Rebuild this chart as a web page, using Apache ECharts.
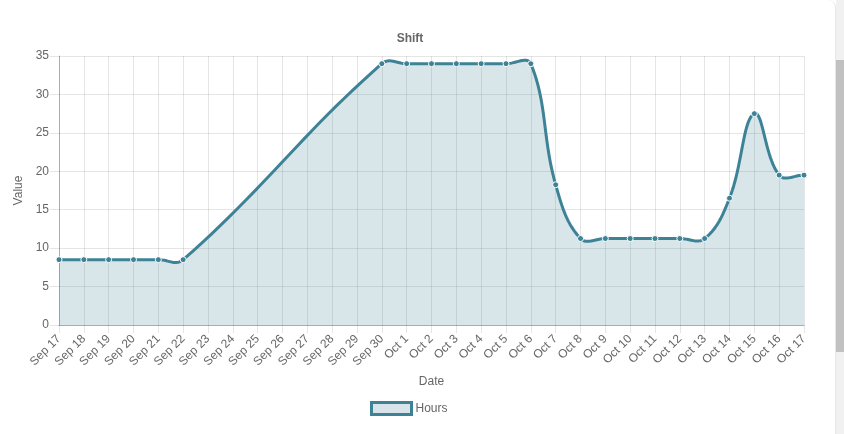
<!DOCTYPE html>
<html>
<head>
<meta charset="utf-8">
<script src="https://cdn.jsdelivr.net/npm/echarts@6/dist/echarts.min.js"></script>
<style>
  html, body { margin: 0; padding: 0; background: #ffffff; overflow: hidden; }
  #card { position: absolute; left: 0; top: 0; width: 835px; height: 434px; background: #fff;
          border-right: 1px solid #e6e6e6; border-top-right-radius: 8px; }
  #chart { position: absolute; left: 0; top: 0; width: 835px; height: 434px; }
  #track { position: absolute; left: 836px; top: 0; width: 8px; height: 434px; background: #f1f1f1; }
  #thumb { position: absolute; left: 836px; top: 60px; width: 8px; height: 292px; background: #c1c1c1; }
</style>
</head>
<body>
<div id="card"></div>
<div id="chart"></div>
<div id="track"></div>
<div id="thumb"></div>
<script>
const categories = ['Sep 17','Sep 18','Sep 19','Sep 20','Sep 21','Sep 22','Sep 23','Sep 24','Sep 25','Sep 26',
  'Sep 27','Sep 28','Sep 29','Sep 30','Oct 1','Oct 2','Oct 3','Oct 4','Oct 5','Oct 6','Oct 7','Oct 8',
  'Oct 9','Oct 10','Oct 11','Oct 12','Oct 13','Oct 14','Oct 15','Oct 16','Oct 17'];
const hours = [8.5, 8.5, 8.5, 8.5, 8.5, 8.5, null, null, null, null, null, null, null, 34,
  34, 34, 34, 34, 34, 34, 18.25, 11.25, 11.25, 11.25, 11.25, 11.25, 11.25, 16.5, 27.5, 19.5, 19.5];
const seriesName = 'Hours';
const titleText = 'Shift';
const xName = 'Date';
const yName = 'Value';

// points only where a value exists; x = category index (the line spans the missing days)
const points = [];
hours.forEach((v, i) => { if (v !== null) points.push([i, v]); });

const lineColor = '#3e8296';
const fillColor = 'rgba(62,130,150,0.2)';
const txt = '#666666';
const font = 'Liberation Sans, Arial, sans-serif';
const tension = 0.4;

// Cardinal-spline curve (tension 0.4) through the points, in pixel space from the axis scales
function renderCurve(params, api) {
  if (params.dataIndex !== 0) return;
  const px = points.map(p => api.coord(p));
  const base = api.coord([0, 0])[1];
  const top = api.coord([0, 35])[1];
  const n = px.length;
  const cps = [];
  for (let i = 0; i < n; i++) {
    const prev = px[Math.max(0, i - 1)], cur = px[i], next = px[Math.min(n - 1, i + 1)];
    const d01 = Math.hypot(cur[0] - prev[0], cur[1] - prev[1]);
    const d12 = Math.hypot(next[0] - cur[0], next[1] - cur[1]);
    let s01 = d01 / (d01 + d12), s12 = d12 / (d01 + d12);
    if (!isFinite(s01)) s01 = 0;
    if (!isFinite(s12)) s12 = 0;
    const fa = tension * s01, fb = tension * s12;
    const clampY = y => Math.min(base, Math.max(top, y));
    cps.push({
      p: [cur[0] - fa * (next[0] - prev[0]), clampY(cur[1] - fa * (next[1] - prev[1]))],
      n: [cur[0] + fb * (next[0] - prev[0]), clampY(cur[1] + fb * (next[1] - prev[1]))]
    });
  }
  const line = [px[0]];
  const steps = 24;
  for (let i = 0; i < n - 1; i++) {
    const a = px[i], b = px[i + 1], c1 = cps[i].n, c2 = cps[i + 1].p;
    for (let s = 1; s <= steps; s++) {
      const t = s / steps, u = 1 - t;
      line.push([
        u*u*u*a[0] + 3*u*u*t*c1[0] + 3*u*t*t*c2[0] + t*t*t*b[0],
        u*u*u*a[1] + 3*u*u*t*c1[1] + 3*u*t*t*c2[1] + t*t*t*b[1]
      ]);
    }
  }
  const area = line.concat([[px[n - 1][0], base], [px[0][0], base]]);
  return {
    type: 'group',
    children: [
      { type: 'polygon', shape: { points: area }, style: { fill: fillColor }, silent: true },
      { type: 'polyline', shape: { points: line },
        style: { stroke: lineColor, lineWidth: 3, fill: null, lineJoin: 'round' }, silent: true }
    ]
  };
}

const chart = echarts.init(document.getElementById('chart'), null, { renderer: 'canvas' });
chart.setOption({
  animation: false,
  backgroundColor: 'transparent',
  title: {
    text: titleText, left: 405, top: 28, textAlign: 'center',
    textStyle: { fontFamily: font, fontSize: 12, fontWeight: 'bold', color: txt }
  },
  legend: {
    data: [{ name: seriesName, icon: 'rect' }],
    left: 365, top: 396, itemWidth: 40, itemHeight: 12, itemGap: 5,
    textStyle: { fontFamily: font, fontSize: 12, color: txt, padding: [0, 0, 0, -1] },
    itemStyle: { color: '#d8e4ea', borderColor: lineColor, borderWidth: 3 }
  },
  grid: { left: 59, right: 31, top: 56, bottom: 109, containLabel: false },
  xAxis: {
    type: 'value', min: 0, max: categories.length - 1, interval: 1,
    name: xName, nameLocation: 'middle', nameGap: 51,
    nameTextStyle: { fontFamily: font, fontSize: 12, color: txt },
    axisLine: { show: true, lineStyle: { color: 'rgba(0,0,0,0.25)', width: 1 } },
    axisTick: { show: true, length: 8, lineStyle: { color: 'rgba(0,0,0,0.1)' } },
    axisLabel: { rotate: 45, margin: 12, fontFamily: font, fontSize: 12, color: txt,
      showMinLabel: true, showMaxLabel: true,
      formatter: v => categories[v] },
    splitLine: { show: true, lineStyle: { color: 'rgba(0,0,0,0.1)', width: 1 } }
  },
  yAxis: {
    type: 'value', min: 0, max: 35, interval: 5,
    name: yName, nameLocation: 'middle', nameGap: 28, nameRotate: 90,
    nameTextStyle: { fontFamily: font, fontSize: 12, color: txt },
    axisLine: { show: true, lineStyle: { color: 'rgba(0,0,0,0.25)', width: 1 } },
    axisTick: { show: true, length: 9, lineStyle: { color: 'rgba(0,0,0,0.1)' } },
    axisLabel: { margin: 10, fontFamily: font, fontSize: 12, color: txt },
    splitLine: { show: true, lineStyle: { color: 'rgba(0,0,0,0.1)', width: 1 } }
  },
  series: [
    {
      name: 'curve', type: 'custom', data: [[0, 0]], renderItem: renderCurve,
      silent: true, z: 2, clip: false
    },
    {
      name: seriesName, type: 'line', data: points, z: 3,
      symbol: 'circle', symbolSize: 6, showAllSymbol: true,
      lineStyle: { color: lineColor, width: 0, opacity: 0 },
      itemStyle: { color: lineColor, borderColor: '#ffffff', borderWidth: 1 }
    }
  ]
});
</script>
</body>
</html>
